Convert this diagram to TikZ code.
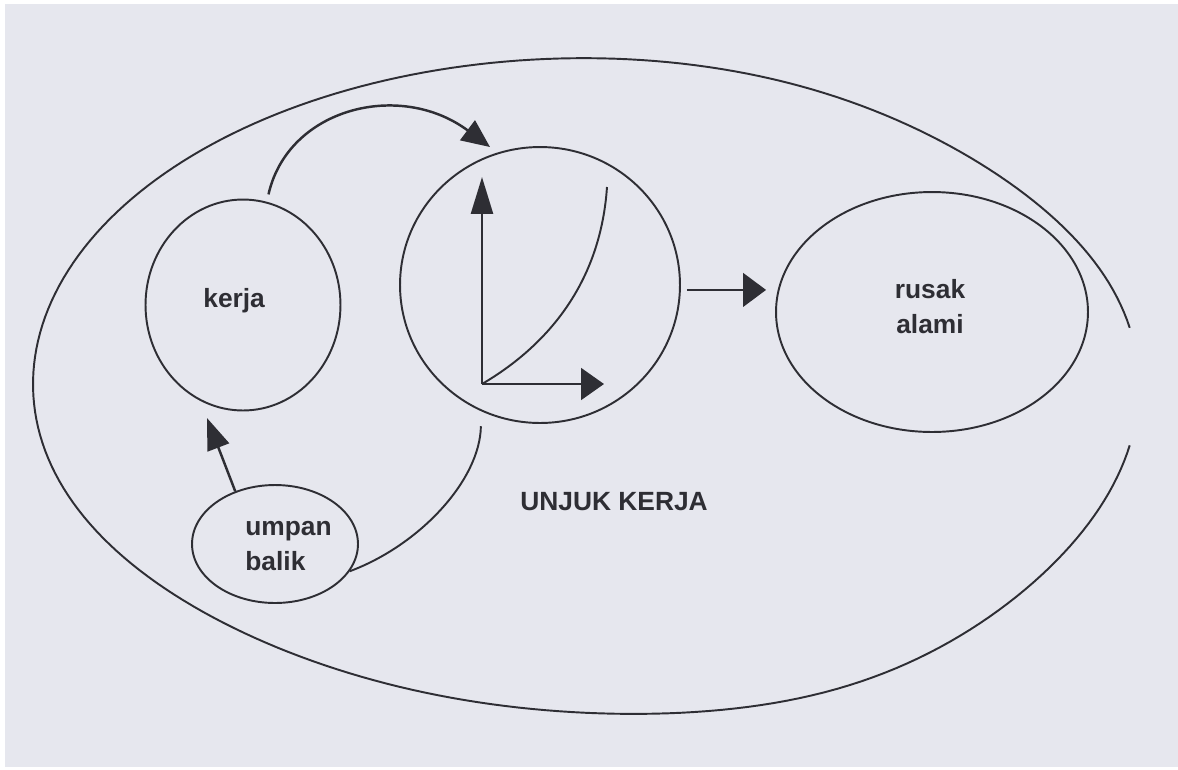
\documentclass[tikz,border=0pt]{standalone}
\usepackage{fontspec}
\setmainfont{Liberation Sans}
\usetikzlibrary{arrows.meta,shapes.geometric}
\definecolor{paper}{HTML}{E6E7EE}
\definecolor{ink}{HTML}{2E2E34}
\begin{document}
\begin{tikzpicture}[x=0.02cm,y=-0.02cm,
  every node/.style={font=\fontsize{15}{18}\selectfont\bfseries, text=ink, inner sep=0pt},
  bubble/.style={ellipse, draw=ink, line width=1.1pt, inner sep=0pt},
  outline/.style={draw=ink, line width=1.1pt},
  conn/.style={draw=ink, line width=1.4pt},
  headed/.style 2 args={-{Triangle[length=#1,width=#2]}},
]
\useasboundingbox (0,0) rectangle (1178,769);
\fill[white] (0,0) rectangle (1178,769);
\fill[paper] (5,4) rectangle (1178,767);

% open outer boundary of the system: a slightly irregular ellipse,
% left open on the right-hand side
\draw[outline, line join=round] plot[domain=10.5:349.5, samples=240, variable=\t]
  ({586+553*cos(\t)},
   {385.5-327.5*sin(\t)
     +8*exp(-((\t-40)/25)^2)
     +12*exp(-((\t-300)/24)^2)
     -10*exp(-((\t-230)/35)^2)});

% the four bubbles
\node[bubble, minimum width=3.9cm,  minimum height=4.22cm] (kerja) at (243,305) {};
\node[bubble, minimum width=5.6cm,  minimum height=5.52cm] (perf)  at (540,285) {};
\node[bubble, minimum width=6.24cm, minimum height=4.8cm]  (rusak) at (932,312) {};
\node[bubble, minimum width=3.32cm, minimum height=2.36cm] (umpan) at (275,544) {};

% labels
\node[anchor=base west] (kerjaT) at (203,307) {kerja};
\node[anchor=base west] (umpanT) at (245,535) {umpan};
\node[anchor=base west] (balikT) at (245,570) {balik};
\node[anchor=base] (rusakT) at (930,298) {rusak};
\node[anchor=base] (alamiT) at (930,333) {alami};
\node[anchor=base west] (perfT) at (520,510) {UNJUK KERJA};

% performance graph inside the middle bubble
\coordinate (o) at (482,384);
\coordinate (ytop) at (482,177);
\coordinate (xend) at (604,384);
\coordinate (ctop) at (607,187);
\draw[conn, headed={21pt}{12.5pt}] (o) -- (ytop);
\draw[conn, headed={13pt}{18pt}] (o) -- (xend);
\draw[outline] (o) .. controls (540,350) and (600,290) .. (ctop);

% work feeds performance
\coordinate (arcend) at (490,147);
\draw[conn, shorten <=0.15cm, headed={16pt}{14pt}]
  (kerja.77) .. controls (288,108) and (400,80) .. (arcend);

% performance leads to natural decay
\draw[conn, shorten <=0.12cm, shorten >=0.18cm, headed={13pt}{19pt}]
  (perf.-2.5) -- (perf.-2.5 -| rusak.west);

% feedback loop
\draw[outline, shorten >=0.3cm]
  (umpan.-20) .. controls (420,545) and (480,480) .. (perf.245);
\coordinate (fbend) at (207,418);
\draw[conn, headed={18pt}{13pt}] (umpan.127) -- (fbend);
\end{tikzpicture}
\end{document}
